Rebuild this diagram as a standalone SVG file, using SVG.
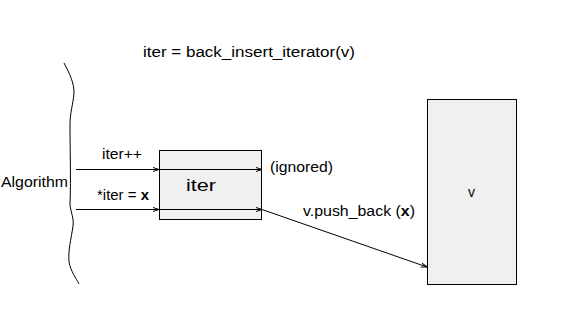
<svg xmlns="http://www.w3.org/2000/svg" width="564" height="334" viewBox="0 0 564 334">
<style>
text{font-family:"Liberation Sans",Arial,sans-serif;font-size:14px;fill:#000}
.box{fill:#f0f0f0;stroke:#000;stroke-width:1}
.ln{fill:none;stroke:#000;stroke-width:1}
</style>
<defs>
<marker id="ah" markerWidth="8" markerHeight="6" refX="6" refY="3" orient="auto" markerUnits="userSpaceOnUse">
<polyline points="0,1 6,3 0,5" fill="none" stroke="#000" stroke-width="1"/>
</marker>
</defs>
<rect width="564" height="334" fill="#fff"/>
<text x="143" y="57" textLength="212" lengthAdjust="spacingAndGlyphs">iter = back_insert_iterator(v)</text>
<g id="algorithm">
<path class="ln" d="M64,63 C70,74 74,83 74,93 C73,105 70,112 70,125 C70,150 71,175 70,205 C71,213 74,218 73,226 C71,240 68,250 69,262 C71,272 76,278 79,284"/>
<text x="1" y="187" textLength="67" lengthAdjust="spacingAndGlyphs">Algorithm</text>
</g>
<g id="iter">
<rect class="box" x="159.5" y="150.5" width="102" height="69"/>
<text x="186" y="191" style="font-size:17px" textLength="30" lengthAdjust="spacingAndGlyphs">iter</text>
</g>
<g id="v">
<rect class="box" x="427.5" y="99.5" width="89" height="185"/>
<text x="468" y="197">v</text>
</g>
<g id="connectors">
<line class="ln" x1="76" y1="169.5" x2="159" y2="169.5" marker-end="url(#ah)"/>
<line class="ln" x1="159" y1="169.5" x2="262" y2="169.5" marker-end="url(#ah)"/>
<line class="ln" x1="76" y1="209.5" x2="159" y2="209.5" marker-end="url(#ah)"/>
<line class="ln" x1="159" y1="209.5" x2="262" y2="209.5" marker-end="url(#ah)"/>
<line class="ln" x1="262" y1="209.5" x2="427" y2="267" marker-end="url(#ah)"/>
<text x="102" y="159" textLength="40" lengthAdjust="spacingAndGlyphs">iter++</text>
<text x="97" y="200" textLength="52" lengthAdjust="spacingAndGlyphs">*iter = <tspan font-weight="bold">x</tspan></text>
<text x="270" y="172" textLength="63" lengthAdjust="spacingAndGlyphs">(ignored)</text>
<text x="303" y="216" textLength="112" lengthAdjust="spacingAndGlyphs">v.push_back (<tspan font-weight="bold">x</tspan>)</text>
</g>
</svg>
